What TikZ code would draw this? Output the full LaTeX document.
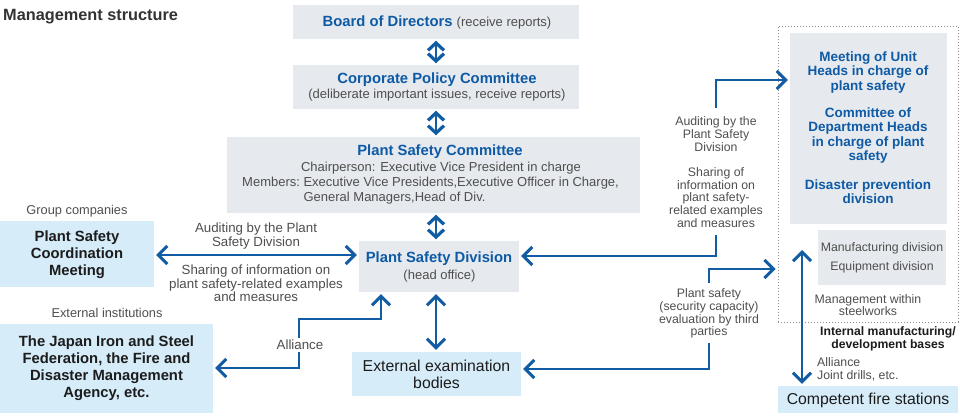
\documentclass[tikz,border=0pt]{standalone}
\usepackage{fontspec}
\setmainfont{Liberation Sans}
\usetikzlibrary{arrows.meta,calc}
\definecolor{blu}{RGB}{14,90,165}
\definecolor{arrc}{RGB}{18,92,164}
\definecolor{gbox}{RGB}{230,234,238}
\definecolor{lbox}{RGB}{214,236,249}
\definecolor{gtxt}{RGB}{78,78,78}
\definecolor{dtxt}{RGB}{28,28,28}
\definecolor{ttxt}{RGB}{50,50,50}
\definecolor{dotc}{RGB}{140,140,140}
\tikzset{
  chev/.tip={Straight Barb[length=9pt,width=18pt,line width=3pt,line join=miter,line cap=butt]},
  chevs/.tip={Straight Barb[length=7.5pt,width=16pt,line width=3.2pt,line join=miter,line cap=butt]},
}
\begin{document}
\begin{tikzpicture}[x=1pt,y=-1pt,
  graybox/.style={fill=gbox,draw=none,inner sep=0pt},
  lightbox/.style={fill=lbox,draw=none,inner sep=0pt},
  btitle/.style={font=\fontsize{14.8}{17}\selectfont\bfseries,text=blu,inner sep=0pt,align=center},
  bsmall/.style={font=\fontsize{13.5}{14.3}\selectfont\bfseries,text=blu,inner sep=0pt,align=center},
  dbold/.style={font=\fontsize{14.8}{17}\selectfont\bfseries,text=dtxt,inner sep=0pt,align=center},
  dmed/.style={font=\fontsize{15.8}{17}\selectfont,text=dtxt,inner sep=0pt,align=center},
  gtext/.style={font=\fontsize{13}{15}\selectfont,text=gtxt,inner sep=0pt,align=center},
  gleft/.style={font=\fontsize{13.3}{13.7}\selectfont,text=gtxt,inner sep=0pt,align=center},
  gright/.style={font=\fontsize{12.3}{12.7}\selectfont,text=gtxt,inner sep=0pt,align=center},
  conn/.style={draw=arrc,line width=2.7pt},
  sconn/.style={draw=arrc,line width=2.2pt},
]
\useasboundingbox (0,0) rectangle (960,418);

% title
\node[anchor=west,inner sep=0pt,font=\fontsize{16.3}{18}\selectfont\bfseries,text=ttxt] (title) at (3,17) {Management structure};

% central boxes
\node[graybox,minimum width=286pt,minimum height=34pt] (board) at (436,22) {};
\node[graybox,minimum width=286pt,minimum height=44pt] (cpc) at (436,87) {};
\node[graybox,minimum width=413pt,minimum height=76pt] (psc) at (433.5,175) {};
\node[graybox,minimum width=160pt,minimum height=51pt] (psd) at (439,266.5) {};
\node[lightbox,minimum width=169pt,minimum height=44pt] (eeb) at (436.5,374) {};

\node[btitle] (boardt) at (437,22) {Board of Directors {\mdseries\fontsize{13}{15}\selectfont\color{gtxt}(receive reports)}};
\node[btitle] (cpct) at (437,80) {Corporate Policy Committee};
\node[gtext] (cpcs) at (437,95.5) {(deliberate important issues, receive reports)};
\node[btitle] (psct) at (440,152) {Plant Safety Committee};
\node[gtext] (pscc) at (441,168) {Chairperson: Executive Vice President in charge};
\node[gtext,anchor=north west] (pscm) at (242,176) {\begin{tabular}{@{}l@{}l@{}}Members:\kern3.6pt&Executive Vice Presidents,Executive Officer in Charge,\\&General Managers,Head of Div.\end{tabular}};
\node[btitle] (psdt) at (439,259) {Plant Safety Division};
\node[gtext] (psds) at (439.5,276) {(head office)};
\node[dmed] (eebt) at (436.5,374.5) {External examination\\bodies};

% left boxes
\node[lightbox,minimum width=154pt,minimum height=66pt] (coord) at (77,254) {};
\node[dbold] (coordt) at (77,254.5) {Plant Safety\\Coordination\\Meeting};
\node[gtext,font=\fontsize{12.8}{14}\selectfont] (grp) at (77,211.5) {Group companies};
\node[lightbox,minimum width=213pt,minimum height=89pt] (ext) at (106.5,368.5) {};
\node[dbold] (extt) at (106.5,368.5) {The Japan Iron and Steel\\Federation, the Fire and\\Disaster Management\\Agency, etc.};
\node[gtext,font=\fontsize{12.8}{14}\selectfont] (exti) at (107,313) {External institutions};

% right side
\node[draw=dotc,line width=1pt,dash pattern=on 1pt off 2pt,minimum width=180pt,minimum height=296pt,inner sep=0pt] (intern) at (868,174) {};
\node[graybox,minimum width=157pt,minimum height=191pt] (ingray) at (868.5,128.5) {};
\node[graybox,minimum width=128pt,minimum height=55pt] (indiv) at (882,257.5) {};
\node[bsmall] (mu) at (868,72.5) {Meeting of Unit\\Heads in charge of\\plant safety};
\node[bsmall] (cd) at (868,135.5) {Committee of\\Department Heads\\in charge of plant\\safety};
\node[bsmall] (dp) at (868,191.5) {Disaster prevention\\division};
\node[gright] (md) at (882,248) {Manufacturing division};
\node[gright] (ed) at (882,267) {Equipment division};
\node[gright] (mw) at (868,305) {Management within\\steelworks};
\node[font=\fontsize{12.2}{12.7}\selectfont\bfseries,text=dtxt,inner sep=0pt,align=center] (imb) at (888,339) {Internal manufacturing/\\development bases};
\node[gright,align=left,anchor=west] (aj) at (817,369.5) {Alliance\\Joint drills, etc.};
\node[lightbox,minimum width=180pt,minimum height=27pt] (cfs) at (868,399.5) {};
\node[dmed] (cfst) at (868,400) {Competent fire stations};

% labels between
\node[gleft] (l1) at (256,236) {Auditing by the Plant\\Safety Division};
\node[gleft] (l2) at (256,283.5) {Sharing of information on\\plant safety-related examples\\and measures};
\node[gright] (r1) at (716,134) {Auditing by the\\Plant Safety\\Division};
\node[gright] (r2) at (716,197.5) {Sharing of\\information on\\plant safety-\\related examples\\and measures};
\node[gright] (r3) at (709,313.5) {Plant safety\\(security capacity)\\evaluation by third\\parties};

% vertical short arrows
\draw[sconn,chevs-chevs,shorten <=1.5pt,shorten >=1.5pt] (board.south) -- (cpc.north);
\draw[sconn,chevs-chevs,shorten <=1.5pt,shorten >=1.5pt] (cpc.south) -- (cpc.south |- psc.north);
\draw[sconn,chevs-chevs,shorten <=1.5pt,shorten >=1.5pt] (psc.south -| cpc.south) -- (psd.north -| cpc.south);
\draw[conn,chev-chev,shorten <=2pt,shorten >=2pt] (psd.south -| cpc.south) -- (eeb.north -| cpc.south);

% left horizontal
\draw[conn,chev-chev,shorten <=2pt,shorten >=2pt] (coord.east |- 0,255) -- (psd.west |- 0,255);

% alliance
\coordinate (a1) at (381,319);
\coordinate (a2) at (299,319);
\coordinate (a3) at (299,368);
\draw[conn,chev-chev,shorten <=2pt,shorten >=2pt] (a1 |- psd.south) -- (a1) -- (a2) -- (a3) -- (ext.east |- a3);
\node[gleft,fill=white,inner sep=2pt] (all) at (300,345) {Alliance};

% right upper
\coordinate (u1) at (716,108);
\coordinate (u2) at (716,80);
\coordinate (u3) at (716,235);
\coordinate (u4) at (716,256);
\draw[conn,-chev,shorten >=2pt] (u1) -- (u2) -- (ingray.west |- u2);
\draw[conn,-chev,shorten >=2pt] (u3) -- (u4) -- (psd.east |- u4);

% right lower
\coordinate (w1) at (709,343);
\coordinate (w2) at (709,369);
\coordinate (w3) at (709,283);
\coordinate (w4) at (709,269);
\draw[conn,-chev,shorten >=2pt] (w1) -- (w2) -- (eeb.east |- w2);
\draw[conn,-chev,shorten >=2pt] (w3) -- (w4) -- (intern.west |- w4);

% fire station arrow
\coordinate (f1) at (802,250);
\draw[conn,chev-chev,shorten >=2pt] (f1) -- (f1 |- cfs.north);
\end{tikzpicture}
\end{document}
